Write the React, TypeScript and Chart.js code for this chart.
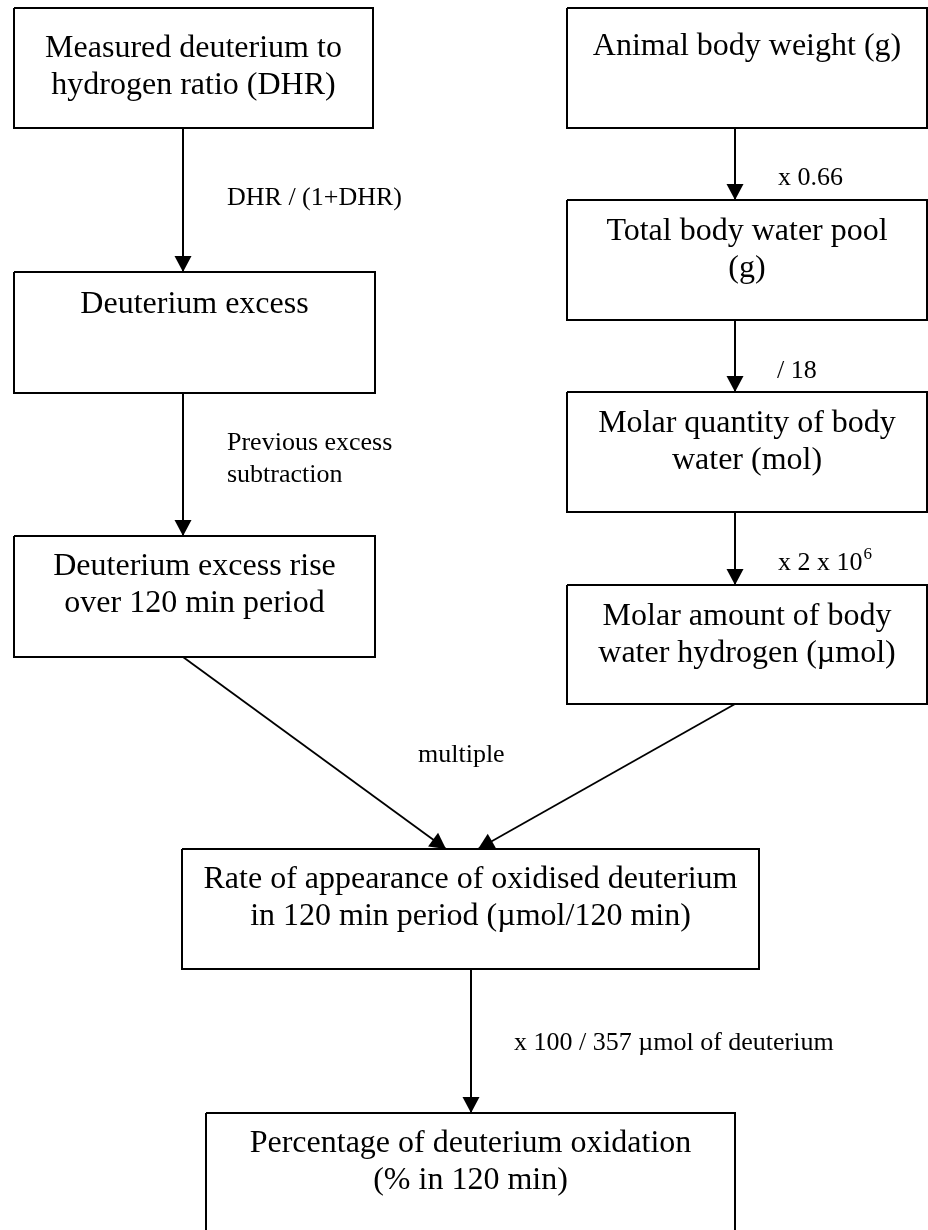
import React, { useEffect, useRef } from "react";
import { Chart, registerables } from "chart.js";

Chart.register(...registerables);

// ---- flowchart data (in page pixel units) ----
const boxTexts = [
  ["Measured deuterium to", "hydrogen ratio (DHR)"],
  ["Animal body weight (g)"],
  ["Deuterium excess"],
  ["Total body water pool", "(g)"],
  ["Molar quantity of body", "water (mol)"],
  ["Deuterium excess rise", "over 120 min period"],
  ["Molar amount of body", "water hydrogen (\u00b5mol)"],
  ["Rate of appearance of oxidised deuterium", "in 120 min period (\u00b5mol/120 min)"],
  ["Percentage of deuterium oxidation", "(% in 120 min)"],
];
const boxLeft = [14, 567, 14, 567, 567, 14, 567, 182, 206];
const boxRight = [373, 927, 375, 927, 927, 375, 927, 759, 735];
const boxTop = [8, 8, 272, 200, 392, 536, 585, 849, 1113];
const boxBottom = [128, 128, 393, 320, 512, 657, 704, 969, 1245];
const boxFirstBaseline = [57, 55, 313, 240, 432, 575, 625, 888, 1152];

const arrowFromX = [183, 735, 183, 735, 735, 183, 735, 471];
const arrowFromY = [128, 128, 393, 320, 512, 657, 704, 969];
const arrowToX = [183, 735, 183, 735, 735, 446, 478, 471];
const arrowToY = [272, 200, 536, 392, 585, 849, 849, 1113];

const labelTexts = [
  "DHR / (1+DHR)",
  "x 0.66",
  "Previous excess",
  "subtraction",
  "/ 18",
  "x 2 x 10",
  "multiple",
  "x 100 / 357 \u00b5mol of deuterium",
];
const labelSup = ["", "", "", "", "", "6", "", ""];
const labelX = [227, 778, 227, 227, 777, 778, 418, 514];
const labelY = [205, 185, 450, 482, 378, 570, 762, 1050];

const W = 928;
const H = 1230;
const BOX_FONT = '32px "Liberation Serif", "Times New Roman", serif';
const LABEL_FONT = '26px "Liberation Serif", "Times New Roman", serif';
const SUP_FONT = '17px "Liberation Serif", "Times New Roman", serif';
const LINE_GAP = 37;

const flowPlugin = {
  id: "flowText",
  afterDatasetsDraw(chart: any) {
    const ctx = chart.ctx as CanvasRenderingContext2D;
    const xs = chart.scales.x;
    const ys = chart.scales.y;
    ctx.save();
    ctx.fillStyle = "#000";
    // arrow heads
    for (let i = 0; i < arrowFromX.length; i++) {
      const x0 = xs.getPixelForValue(arrowFromX[i]);
      const y0 = ys.getPixelForValue(arrowFromY[i]);
      const x1 = xs.getPixelForValue(arrowToX[i]);
      const y1 = ys.getPixelForValue(arrowToY[i]);
      const ang = Math.atan2(y1 - y0, x1 - x0);
      const len = 16;
      const half = 8.5;
      const bx = x1 - Math.cos(ang) * len;
      const by = y1 - Math.sin(ang) * len;
      ctx.beginPath();
      ctx.moveTo(x1, y1);
      ctx.lineTo(bx + Math.sin(ang) * half, by - Math.cos(ang) * half);
      ctx.lineTo(bx - Math.sin(ang) * half, by + Math.cos(ang) * half);
      ctx.closePath();
      ctx.fill();
    }
    // box texts
    ctx.font = BOX_FONT;
    ctx.textAlign = "center";
    ctx.textBaseline = "alphabetic";
    for (let i = 0; i < boxTexts.length; i++) {
      const cx = xs.getPixelForValue((boxLeft[i] + boxRight[i]) / 2);
      boxTexts[i].forEach((t, j) => {
        const y = ys.getPixelForValue(boxFirstBaseline[i] + j * LINE_GAP);
        ctx.fillText(t, cx, y);
      });
    }
    // labels
    ctx.textAlign = "left";
    for (let i = 0; i < labelTexts.length; i++) {
      ctx.font = LABEL_FONT;
      const x = xs.getPixelForValue(labelX[i]);
      const y = ys.getPixelForValue(labelY[i]);
      ctx.fillText(labelTexts[i], x, y);
      if (labelSup[i]) {
        const w = ctx.measureText(labelTexts[i]).width;
        ctx.font = SUP_FONT;
        ctx.fillText(labelSup[i], x + w + 1, y - 11);
      }
    }
    ctx.restore();
  },
};

export default function App() {
  const ref = useRef<HTMLCanvasElement | null>(null);
  useEffect(() => {
    document.body.style.margin = "0";
    const canvas = ref.current;
    if (!canvas) return;
    const datasets: any[] = [];
    for (let i = 0; i < boxLeft.length; i++) {
      datasets.push({
        data: [
          { x: boxLeft[i], y: boxTop[i] },
          { x: boxRight[i], y: boxTop[i] },
          { x: boxRight[i], y: boxBottom[i] },
          { x: boxLeft[i], y: boxBottom[i] },
          { x: boxLeft[i], y: boxTop[i] },
        ],
        showLine: true,
        borderColor: "#000",
        borderWidth: 2,
        pointRadius: 0,
        fill: false,
        tension: 0,
        clip: false,
        borderJoinStyle: "miter",
      });
    }
    for (let i = 0; i < arrowFromX.length; i++) {
      const diag = arrowFromX[i] !== arrowToX[i];
      datasets.push({
        data: [
          { x: arrowFromX[i], y: arrowFromY[i] },
          { x: arrowToX[i], y: arrowToY[i] },
        ],
        showLine: true,
        borderColor: "#000",
        borderWidth: diag ? 1.8 : 2,
        pointRadius: 0,
        fill: false,
        clip: false,
      });
    }
    const chart = new Chart(canvas, {
      type: "scatter",
      data: { datasets },
      options: {
        animation: false,
        responsive: false,
        devicePixelRatio: 1,
        layout: { padding: 0 },
        plugins: { legend: { display: false }, tooltip: { enabled: false } },
        events: [],
        scales: {
          x: { type: "linear", min: 0, max: W, display: false },
          y: { type: "linear", min: 0, max: H, reverse: true, display: false },
        },
      },
      plugins: [flowPlugin],
    });
    return () => chart.destroy();
  }, []);
  return (
    <div style={{ position: "absolute", left: 0, top: 0, width: W, height: H, background: "#fff" }}>
      <canvas ref={ref} width={W} height={H} style={{ display: "block" }} />
    </div>
  );
}
